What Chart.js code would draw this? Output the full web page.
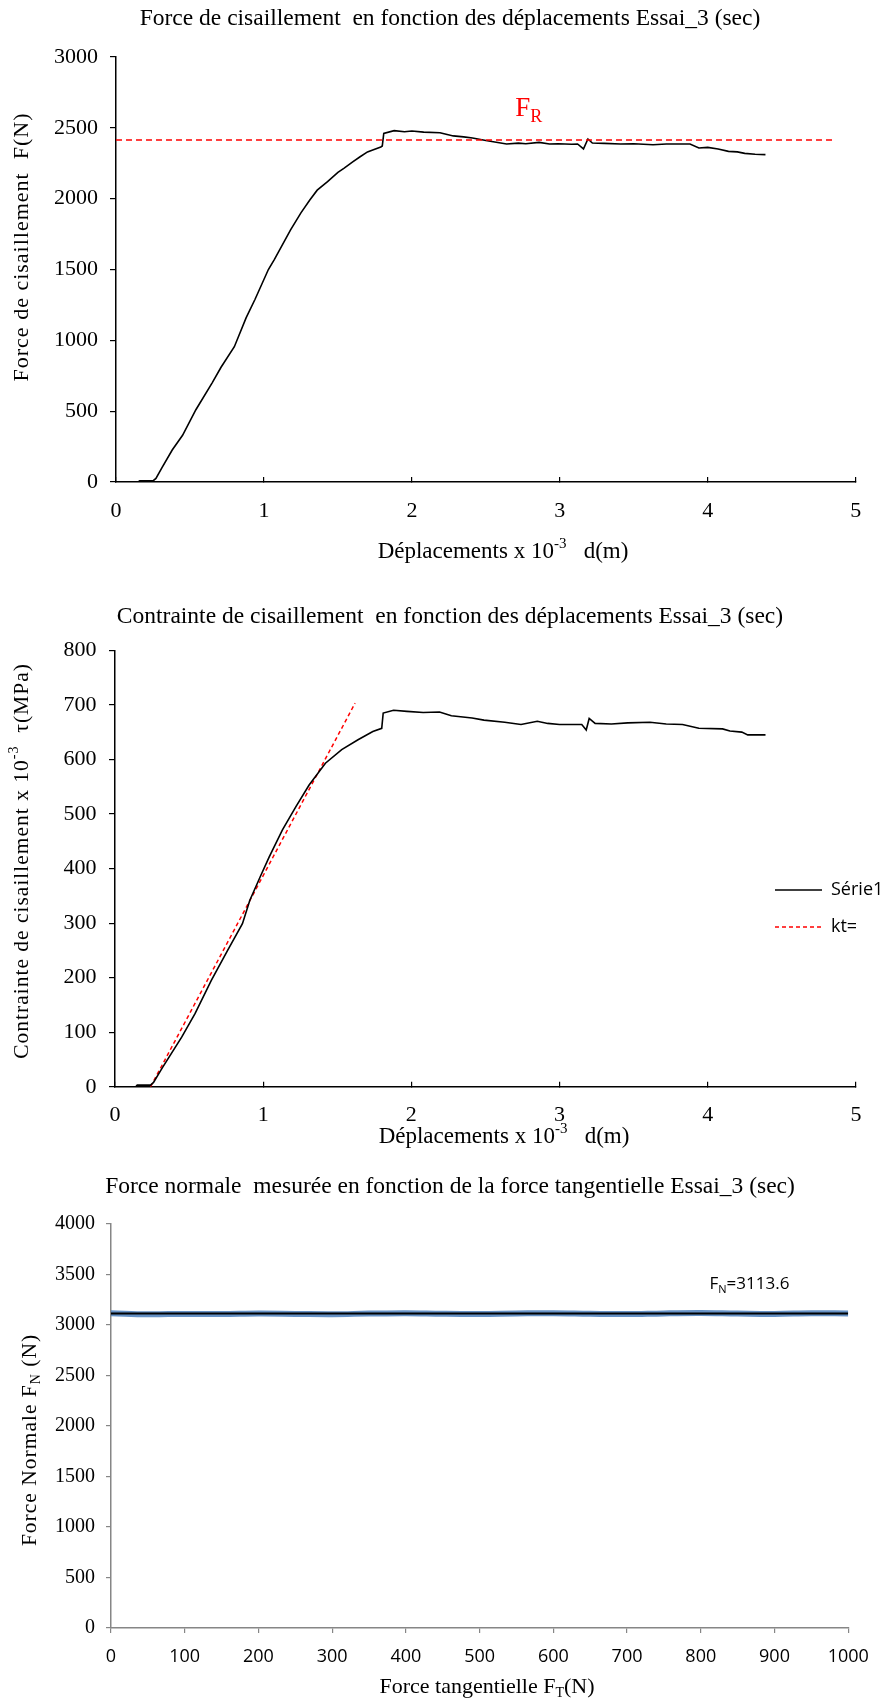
<!DOCTYPE html>
<html>
<head>
<meta charset="utf-8">
<script src="https://cdn.jsdelivr.net/npm/chart.js@4.4.1/dist/chart.umd.min.js"></script>
<style>
  html, body { margin: 0; padding: 0; background: #fff; }
  canvas { display: block; }
</style>
</head>
<body>
<canvas id="forceChart" width="882" height="580"></canvas>
<canvas id="stressChart" width="882" height="580"></canvas>
<canvas id="normalChart" width="882" height="542"></canvas>
<script>
// Essai_3 (sec) - shear force vs displacement (x 10^-3 m)
const forceX = [0, 0.15, 0.16, 0.25, 0.27, 0.31, 0.38, 0.45, 0.54, 0.65, 0.71, 0.80, 0.88, 0.94, 1.03, 1.07,
  1.18, 1.25, 1.31, 1.36, 1.43, 1.50, 1.54, 1.60, 1.65, 1.70, 1.74, 1.79, 1.80, 1.81, 1.88, 1.95, 2.00,
  2.08, 2.19, 2.28, 2.35, 2.41, 2.50, 2.56, 2.64, 2.72, 2.77, 2.86, 2.93, 2.99, 3.08, 3.12, 3.16, 3.19,
  3.22, 3.30, 3.41, 3.50, 3.63, 3.72, 3.88, 3.94, 4.00, 4.07, 4.14, 4.20, 4.25, 4.32, 4.39];
const forceY = [0, 0, 8, 8, 25, 100, 226, 330, 510, 700, 810, 955, 1160, 1290, 1500, 1570,
  1780, 1900, 1990, 2060, 2120, 2185, 2214, 2260, 2296, 2330, 2345, 2365, 2372, 2461, 2480, 2472, 2478,
  2470, 2465, 2443, 2436, 2428, 2410, 2400, 2386, 2392, 2388, 2397, 2386, 2388, 2384, 2386, 2351, 2421,
  2393, 2390, 2386, 2388, 2381, 2386, 2386, 2358, 2362, 2351, 2334, 2330, 2320, 2313, 2311];
const frLineX = [0, 4.85];
const frLevel = 2415;

// shear stress x 10^-3 (MPa) vs displacement
const stressX = [0, 0.14, 0.15, 0.24, 0.26, 0.32, 0.45, 0.54, 0.65, 0.76, 0.86, 0.91, 0.98, 1.04, 1.13,
  1.22, 1.31, 1.42, 1.53, 1.64, 1.74, 1.80, 1.81, 1.88, 1.97, 2.08, 2.19, 2.27, 2.41, 2.49, 2.63, 2.74,
  2.85, 2.92, 3.00, 3.15, 3.18, 3.20, 3.24, 3.35, 3.46, 3.61, 3.72, 3.83, 3.94, 4.10, 4.15, 4.23, 4.27, 4.39];
const stressY = [0, 0, 3, 3, 8, 35, 91, 134, 195, 250, 299, 342, 385, 421, 471,
  513, 553, 593, 618, 636, 651, 657, 685, 690, 688, 686, 687, 680, 676, 672, 668, 664,
  670, 666, 664, 664, 654, 675, 666, 665, 667, 668, 665, 664, 657, 656, 652, 650, 645, 645];
const ktX = [0.24, 1.62];
const ktY = [0, 703];

// normal force vs tangential force
const tangX = [0, 50, 100, 150, 200, 250, 300, 350, 400, 450, 500, 550, 600, 650, 700, 750, 800, 850, 900, 950, 1000];
const normalY = [3116, 3106, 3110, 3108, 3113, 3110, 3107, 3113, 3117, 3111, 3109, 3114, 3117, 3111, 3108, 3115, 3118, 3113, 3110, 3116, 3114];
const fitX = [0, 1000];
const fnFit = 3113.6;

const SERIF = '"Liberation Serif", "Times New Roman", serif';
const SANS = '"Open Sans", "Noto Sans", sans-serif';

function toPoints(xs, ys) {
  return xs.map((x, i) => ({ x: x, y: ys[i] }));
}

// no thousands separator, like Excel
const plain = v => String(v);

// draws text made of parts, some of them sub- or superscript
function drawRich(ctx, item, x, y) {
  const size = item.size;
  const parts = item.parts.map(p => {
    const s = (p.sub || p.sup) ? Math.round(size * 0.65) : size;
    return { text: p.t, font: s + 'px ' + item.family, dy: p.sub ? size * 0.3 : (p.sup ? -size * 0.35 : 0) };
  });
  ctx.save();
  ctx.letterSpacing = item.spacing || '0px';
  let total = 0;
  parts.forEach(p => { ctx.font = p.font; p.w = ctx.measureText(p.text).width; total += p.w; });
  ctx.translate(x, y);
  if (item.rotate) ctx.rotate(item.rotate);
  ctx.fillStyle = item.color || '#000';
  ctx.textBaseline = 'middle';
  ctx.textAlign = 'left';
  let cx = -total / 2;
  parts.forEach(p => { ctx.font = p.font; ctx.fillText(p.text, cx, p.dy); cx += p.w; });
  ctx.restore();
}

const richText = {
  id: 'richText',
  afterDraw(chart, args, opts) {
    (opts.items || []).forEach(item => {
      let x = item.x, y = item.y;
      if (item.dataX !== undefined) {
        x = chart.scales.x.getPixelForValue(item.dataX);
        y = chart.scales.y.getPixelForValue(item.dataY);
      }
      drawRich(chart.ctx, item, x, y);
    });
  }
};

// legend drawn inside the plot, like the Excel one
const sideLegend = {
  id: 'sideLegend',
  afterDraw(chart, args, opts) {
    if (!opts.show) return;
    const ctx = chart.ctx;
    let y = opts.y;
    chart.data.datasets.forEach(ds => {
      ctx.save();
      ctx.strokeStyle = ds.borderColor;
      ctx.lineWidth = ds.borderWidth;
      ctx.setLineDash(ds.borderDash || []);
      ctx.beginPath();
      ctx.moveTo(opts.x, y);
      ctx.lineTo(opts.x + opts.lineLength, y);
      ctx.stroke();
      ctx.setLineDash([]);
      ctx.fillStyle = '#000';
      ctx.font = opts.font;
      ctx.textBaseline = 'middle';
      ctx.fillText(ds.label, opts.x + opts.lineLength + 9, y);
      ctx.restore();
      y += opts.gap;
    });
  }
};

Chart.register(richText, sideLegend);

function blackAxis(tickLength) {
  return {
    grid: { drawOnChartArea: false, drawTicks: true, tickLength: tickLength, color: '#000', lineWidth: 1.2 },
    border: { color: '#000', width: 1.5 }
  };
}

// Chart 1 - force
new Chart(document.getElementById('forceChart'), {
  type: 'scatter',
  data: {
    datasets: [{
      label: 'Série1',
      data: toPoints(forceX, forceY),
      showLine: true,
      borderColor: '#000',
      borderWidth: 1.6,
      pointRadius: 0,
      tension: 0,
      order: 1
    }, {
      label: 'FR',
      data: toPoints(frLineX, [frLevel, frLevel]),
      showLine: true,
      borderColor: '#ff0000',
      borderWidth: 1.5,
      borderDash: [6, 4],
      pointRadius: 0,
      order: 0
    }]
  },
  options: {
    responsive: false,
    animation: false,
    layout: { padding: { left: 34, right: 16, top: 0, bottom: 0 } },
    plugins: {
      legend: { display: false },
      tooltip: { enabled: false },
      title: {
        display: true,
        text: 'Force de cisaillement  en fonction des déplacements Essai_3 (sec)',
        color: '#000',
        font: { family: SERIF, size: 23.5, weight: 'normal' },
        padding: { top: 4.5, bottom: 24.3 }
      },
      richText: {
        items: [
          { parts: [{ t: 'Force de cisaillement  F(N)' }], family: SERIF, size: 22, spacing: '1px', x: 22, y: 247, rotate: -Math.PI / 2 },
          { parts: [{ t: 'Déplacements x 10' }, { t: '-3', sup: true }, { t: '   d(m)' }], family: SERIF, size: 23, x: 503, y: 552 },
          { parts: [{ t: 'F' }, { t: 'R', sub: true }], family: SERIF, size: 27, color: '#ff0000', dataX: 2.79, dataY: 2633 }
        ]
      }
    },
    scales: {
      x: Object.assign({
        type: 'linear', min: 0, max: 5,
        ticks: { stepSize: 1, color: '#000', font: { family: SERIF, size: 22 }, padding: 20.8, maxRotation: 0, callback: plain },
        afterFit: s => { s.height = 98; }
      }, blackAxis(-5)),
      y: Object.assign({
        min: 0, max: 3000,
        ticks: { stepSize: 500, color: '#000', font: { family: SERIF, size: 22 }, padding: 12, callback: plain },
        afterFit: s => { s.width = 82; }
      }, blackAxis(6))
    }
  }
});

// Chart 2 - stress
new Chart(document.getElementById('stressChart'), {
  type: 'scatter',
  data: {
    datasets: [{
      label: 'Série1',
      data: toPoints(stressX, stressY),
      showLine: true,
      borderColor: '#000',
      borderWidth: 1.6,
      pointRadius: 0,
      tension: 0
    }, {
      label: 'kt=',
      data: toPoints(ktX, ktY),
      showLine: true,
      borderColor: '#ff0000',
      borderWidth: 1.5,
      borderDash: [4, 3],
      pointRadius: 0
    }]
  },
  options: {
    responsive: false,
    animation: false,
    layout: { padding: { left: 24, right: 6, top: 0, bottom: 0 } },
    plugins: {
      legend: { display: false },
      tooltip: { enabled: false },
      title: {
        display: true,
        text: 'Contrainte de cisaillement  en fonction des déplacements Essai_3 (sec)',
        color: '#000',
        font: { family: SERIF, size: 23.5, weight: 'normal' },
        padding: { top: 22.5, bottom: 19.6 }
      },
      sideLegend: { show: true, x: 775, y: 310, gap: 37, lineLength: 47, font: '18px ' + SANS },
      richText: {
        items: [
          { parts: [{ t: 'Contrainte de cisaillement x 10' }, { t: '-3', sup: true }, { t: '  τ(MPa)' }], family: SERIF, size: 21.5, spacing: '1px', x: 22, y: 281, rotate: -Math.PI / 2 },
          { parts: [{ t: 'Déplacements x 10' }, { t: '-3', sup: true }, { t: '   d(m)' }], family: SERIF, size: 23, x: 504, y: 557 }
        ]
      }
    },
    scales: {
      x: Object.assign({
        type: 'linear', min: 0, max: 5,
        ticks: { stepSize: 1, color: '#000', font: { family: SERIF, size: 22 }, padding: 20.6, maxRotation: 0, callback: plain },
        afterFit: s => { s.height = 73.2; }
      }, blackAxis(-5)),
      y: Object.assign({
        min: 0, max: 800,
        ticks: { stepSize: 100, color: '#000', font: { family: SERIF, size: 22 }, padding: 12.6, callback: plain },
        afterFit: s => { s.width = 91; }
      }, blackAxis(6))
    }
  }
});

// Chart 3 - normal force
const grey = '#868686';
new Chart(document.getElementById('normalChart'), {
  type: 'scatter',
  data: {
    datasets: [{
      label: 'FN',
      data: toPoints(tangX, normalY),
      showLine: true,
      borderColor: 'rgba(74, 126, 187, 0.85)',
      borderWidth: 6,
      pointRadius: 0,
      tension: 0.4,
      order: 1
    }, {
      label: 'fit',
      data: toPoints(fitX, [fnFit, fnFit]),
      showLine: true,
      borderColor: '#000',
      borderWidth: 2,
      pointRadius: 0,
      order: 0
    }]
  },
  options: {
    responsive: false,
    animation: false,
    layout: { padding: { left: 40, right: 22, top: 0, bottom: 0 } },
    plugins: {
      legend: { display: false },
      tooltip: { enabled: false },
      title: {
        display: true,
        text: 'Force normale  mesurée en fonction de la force tangentielle Essai_3 (sec)',
        color: '#000',
        font: { family: SERIF, size: 23.5, weight: 'normal' },
        padding: { top: 12.9, bottom: 22.9 }
      },
      richText: {
        items: [
          { parts: [{ t: 'Force Normale F' }, { t: 'N', sub: true }, { t: ' (N)' }], family: SERIF, size: 21.5, spacing: '1px', x: 30, y: 280, rotate: -Math.PI / 2 },
          { parts: [{ t: 'Force tangentielle F' }, { t: 'T', sub: true }, { t: '(N)' }], family: SERIF, size: 22, x: 487, y: 527 },
          { parts: [{ t: 'F' }, { t: 'N', sub: true }, { t: '=3113.6' }], family: SANS, size: 17, dataX: 866, dataY: 3400 }
        ]
      }
    },
    scales: {
      x: {
        type: 'linear', min: 0, max: 1000,
        ticks: { stepSize: 100, color: '#000', font: { family: SANS, size: 18 }, padding: 13.2, maxRotation: 0, callback: plain },
        grid: { drawOnChartArea: false, drawTicks: true, tickLength: 5, color: grey, lineWidth: 1.2 },
        border: { color: grey, width: 1.5 },
        afterFit: s => { s.height = 74; }
      },
      y: {
        min: 0, max: 4000,
        ticks: { stepSize: 500, color: '#000', font: { family: SERIF, size: 20 }, padding: 11, callback: plain },
        grid: { drawOnChartArea: false, drawTicks: true, tickLength: 5, color: grey, lineWidth: 1.2 },
        border: { color: grey, width: 1.5 },
        afterFit: s => { s.width = 71; }
      }
    }
  }
});
</script>
</body>
</html>
